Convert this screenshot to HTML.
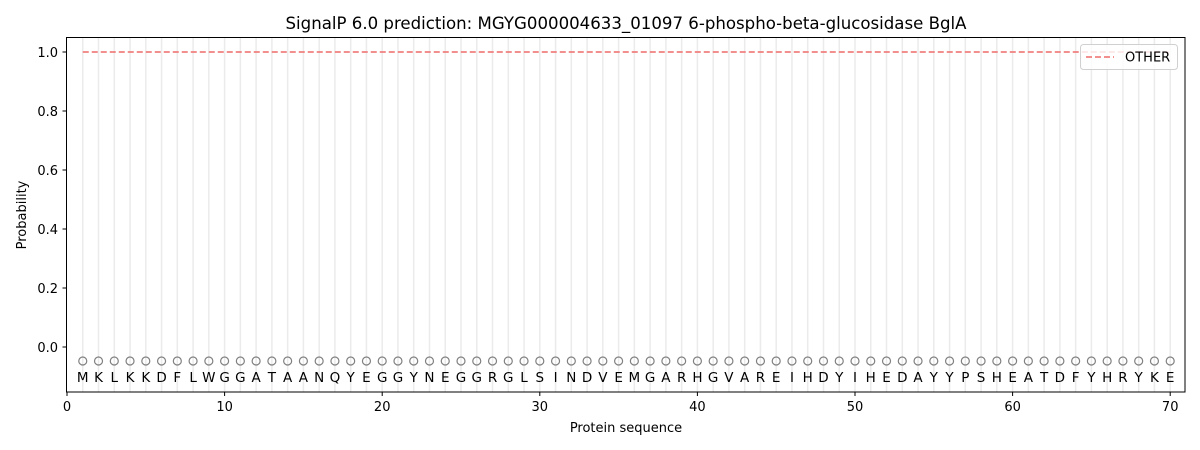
<!DOCTYPE html><html><head><style>body{margin:0;background:#fff}svg{display:block;font-family:"DejaVu Sans","Liberation Sans",sans-serif}</style></head><body>
<svg width="1200" height="450" viewBox="0 0 1200 450">
<text x="626" y="29" font-size="16.6" text-anchor="middle">SignalP 6.0 prediction: MGYG000004633_01097 6-phospho-beta-glucosidase BglA</text>
<g stroke="#ebebeb" stroke-width="1.5">
<path d="M82.76 37V392M98.52 37V392M114.28 37V392M130.04 37V392M145.8 37V392M161.56 37V392M177.32 37V392M193.08 37V392M208.84 37V392M224.6 37V392M240.36 37V392M256.12 37V392M271.88 37V392M287.64 37V392M303.4 37V392M319.16 37V392M334.92 37V392M350.68 37V392M366.44 37V392M382.2 37V392M397.96 37V392M413.72 37V392M429.48 37V392M445.24 37V392M461 37V392M476.76 37V392M492.52 37V392M508.28 37V392M524.04 37V392M539.8 37V392M555.56 37V392M571.32 37V392M587.08 37V392M602.84 37V392M618.6 37V392M634.36 37V392M650.12 37V392M665.88 37V392M681.64 37V392M697.4 37V392M713.16 37V392M728.92 37V392M744.68 37V392M760.44 37V392M776.2 37V392M791.96 37V392M807.72 37V392M823.48 37V392M839.24 37V392M855 37V392M870.76 37V392M886.52 37V392M902.28 37V392M918.04 37V392M933.8 37V392M949.56 37V392M965.32 37V392M981.08 37V392M996.84 37V392M1012.6 37V392M1028.36 37V392M1044.12 37V392M1059.88 37V392M1075.64 37V392M1091.4 37V392M1107.16 37V392M1122.92 37V392M1138.68 37V392M1154.44 37V392M1170.2 37V392"/>
</g>
<line x1="82.76" y1="52" x2="1170.2" y2="52" stroke="#f08080" stroke-width="1.8" stroke-dasharray="6,3"/>
<g fill="none" stroke="#808080" stroke-width="1.2">
<path d="M78.76 361a4 4 0 1 0 8 0a4 4 0 1 0-8 0M94.52 361a4 4 0 1 0 8 0a4 4 0 1 0-8 0M110.28 361a4 4 0 1 0 8 0a4 4 0 1 0-8 0M126.04 361a4 4 0 1 0 8 0a4 4 0 1 0-8 0M141.8 361a4 4 0 1 0 8 0a4 4 0 1 0-8 0M157.56 361a4 4 0 1 0 8 0a4 4 0 1 0-8 0M173.32 361a4 4 0 1 0 8 0a4 4 0 1 0-8 0M189.08 361a4 4 0 1 0 8 0a4 4 0 1 0-8 0M204.84 361a4 4 0 1 0 8 0a4 4 0 1 0-8 0M220.6 361a4 4 0 1 0 8 0a4 4 0 1 0-8 0M236.36 361a4 4 0 1 0 8 0a4 4 0 1 0-8 0M252.12 361a4 4 0 1 0 8 0a4 4 0 1 0-8 0M267.88 361a4 4 0 1 0 8 0a4 4 0 1 0-8 0M283.64 361a4 4 0 1 0 8 0a4 4 0 1 0-8 0M299.4 361a4 4 0 1 0 8 0a4 4 0 1 0-8 0M315.16 361a4 4 0 1 0 8 0a4 4 0 1 0-8 0M330.92 361a4 4 0 1 0 8 0a4 4 0 1 0-8 0M346.68 361a4 4 0 1 0 8 0a4 4 0 1 0-8 0M362.44 361a4 4 0 1 0 8 0a4 4 0 1 0-8 0M378.2 361a4 4 0 1 0 8 0a4 4 0 1 0-8 0M393.96 361a4 4 0 1 0 8 0a4 4 0 1 0-8 0M409.72 361a4 4 0 1 0 8 0a4 4 0 1 0-8 0M425.48 361a4 4 0 1 0 8 0a4 4 0 1 0-8 0M441.24 361a4 4 0 1 0 8 0a4 4 0 1 0-8 0M457 361a4 4 0 1 0 8 0a4 4 0 1 0-8 0M472.76 361a4 4 0 1 0 8 0a4 4 0 1 0-8 0M488.52 361a4 4 0 1 0 8 0a4 4 0 1 0-8 0M504.28 361a4 4 0 1 0 8 0a4 4 0 1 0-8 0M520.04 361a4 4 0 1 0 8 0a4 4 0 1 0-8 0M535.8 361a4 4 0 1 0 8 0a4 4 0 1 0-8 0M551.56 361a4 4 0 1 0 8 0a4 4 0 1 0-8 0M567.32 361a4 4 0 1 0 8 0a4 4 0 1 0-8 0M583.08 361a4 4 0 1 0 8 0a4 4 0 1 0-8 0M598.84 361a4 4 0 1 0 8 0a4 4 0 1 0-8 0M614.6 361a4 4 0 1 0 8 0a4 4 0 1 0-8 0M630.36 361a4 4 0 1 0 8 0a4 4 0 1 0-8 0M646.12 361a4 4 0 1 0 8 0a4 4 0 1 0-8 0M661.88 361a4 4 0 1 0 8 0a4 4 0 1 0-8 0M677.64 361a4 4 0 1 0 8 0a4 4 0 1 0-8 0M693.4 361a4 4 0 1 0 8 0a4 4 0 1 0-8 0M709.16 361a4 4 0 1 0 8 0a4 4 0 1 0-8 0M724.92 361a4 4 0 1 0 8 0a4 4 0 1 0-8 0M740.68 361a4 4 0 1 0 8 0a4 4 0 1 0-8 0M756.44 361a4 4 0 1 0 8 0a4 4 0 1 0-8 0M772.2 361a4 4 0 1 0 8 0a4 4 0 1 0-8 0M787.96 361a4 4 0 1 0 8 0a4 4 0 1 0-8 0M803.72 361a4 4 0 1 0 8 0a4 4 0 1 0-8 0M819.48 361a4 4 0 1 0 8 0a4 4 0 1 0-8 0M835.24 361a4 4 0 1 0 8 0a4 4 0 1 0-8 0M851 361a4 4 0 1 0 8 0a4 4 0 1 0-8 0M866.76 361a4 4 0 1 0 8 0a4 4 0 1 0-8 0M882.52 361a4 4 0 1 0 8 0a4 4 0 1 0-8 0M898.28 361a4 4 0 1 0 8 0a4 4 0 1 0-8 0M914.04 361a4 4 0 1 0 8 0a4 4 0 1 0-8 0M929.8 361a4 4 0 1 0 8 0a4 4 0 1 0-8 0M945.56 361a4 4 0 1 0 8 0a4 4 0 1 0-8 0M961.32 361a4 4 0 1 0 8 0a4 4 0 1 0-8 0M977.08 361a4 4 0 1 0 8 0a4 4 0 1 0-8 0M992.84 361a4 4 0 1 0 8 0a4 4 0 1 0-8 0M1008.6 361a4 4 0 1 0 8 0a4 4 0 1 0-8 0M1024.36 361a4 4 0 1 0 8 0a4 4 0 1 0-8 0M1040.12 361a4 4 0 1 0 8 0a4 4 0 1 0-8 0M1055.88 361a4 4 0 1 0 8 0a4 4 0 1 0-8 0M1071.64 361a4 4 0 1 0 8 0a4 4 0 1 0-8 0M1087.4 361a4 4 0 1 0 8 0a4 4 0 1 0-8 0M1103.16 361a4 4 0 1 0 8 0a4 4 0 1 0-8 0M1118.92 361a4 4 0 1 0 8 0a4 4 0 1 0-8 0M1134.68 361a4 4 0 1 0 8 0a4 4 0 1 0-8 0M1150.44 361a4 4 0 1 0 8 0a4 4 0 1 0-8 0M1166.2 361a4 4 0 1 0 8 0a4 4 0 1 0-8 0"/>
</g>
<text y="382" font-size="13.5" text-anchor="middle" x="82.76 98.52 114.28 130.04 145.8 161.56 177.32 193.08 208.84 224.6 240.36 256.12 271.88 287.64 303.4 319.16 334.92 350.68 366.44 382.2 397.96 413.72 429.48 445.24 461 476.76 492.52 508.28 524.04 539.8 555.56 571.32 587.08 602.84 618.6 634.36 650.12 665.88 681.64 697.4 713.16 728.92 744.68 760.44 776.2 791.96 807.72 823.48 839.24 855 870.76 886.52 902.28 918.04 933.8 949.56 965.32 981.08 996.84 1012.6 1028.36 1044.12 1059.88 1075.64 1091.4 1107.16 1122.92 1138.68 1154.44 1170.2">MKLKKDFLWGGATAANQYEGGYNEGGRGLSINDVEMGARHGVAREIHDYIHEDAYYPSHEATDFYHRYKE</text>
<rect x="66.5" y="37.5" width="1118.5" height="354.5" fill="none" stroke="#000" stroke-width="1"/>
<g stroke="#000"><path d="M67 392v4M224.6 392v4M382.2 392v4M539.8 392v4M697.4 392v4M855 392v4M1012.6 392v4M1170.2 392v4M66.5 347h-4M66.5 288h-4M66.5 229h-4M66.5 170h-4M66.5 111h-4M66.5 52h-4"/></g>
<g font-size="13" text-anchor="middle"><text x="67" y="411">0</text><text x="224.6" y="411">10</text><text x="382.2" y="411">20</text><text x="539.8" y="411">30</text><text x="697.4" y="411">40</text><text x="855" y="411">50</text><text x="1012.6" y="411">60</text><text x="1170.2" y="411">70</text></g>
<g font-size="13" text-anchor="end"><text x="58" y="352">0.0</text><text x="58" y="293">0.2</text><text x="58" y="234">0.4</text><text x="58" y="175">0.6</text><text x="58" y="116">0.8</text><text x="58" y="57">1.0</text></g>
<text x="626" y="432" font-size="13" text-anchor="middle">Protein sequence</text>
<text transform="translate(26,215) rotate(-90)" font-size="13" text-anchor="middle">Probability</text>
<rect x="1080.5" y="44.5" width="97" height="25" rx="3" fill="#fff" fill-opacity="0.8" stroke="#d0d0d0"/>
<line x1="1086" y1="57" x2="1114" y2="57" stroke="#f08080" stroke-width="1.8" stroke-dasharray="6,3"/>
<text x="1125" y="61.5" font-size="13">OTHER</text>
</svg></body></html>
